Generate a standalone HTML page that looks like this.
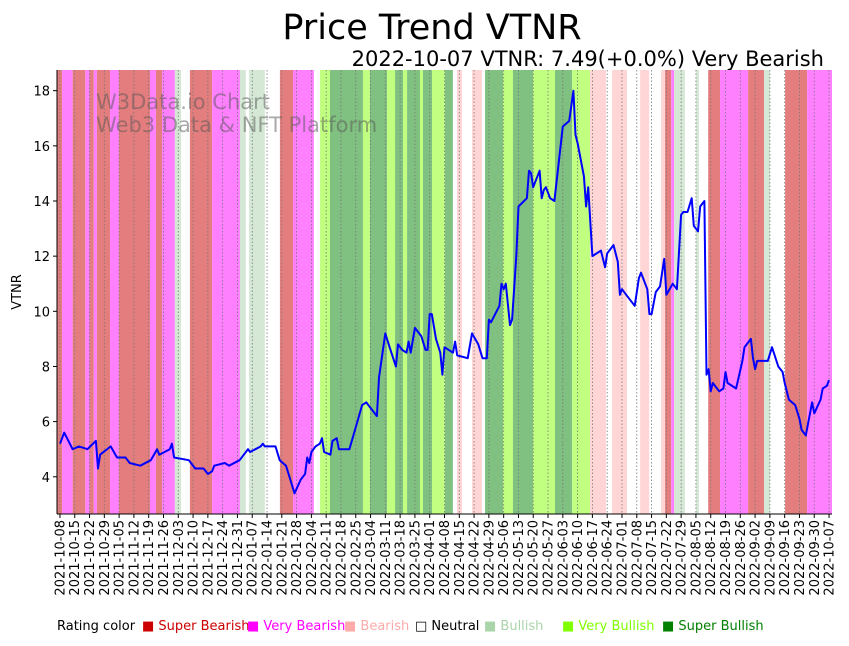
<!DOCTYPE html>
<html><head><meta charset="utf-8"><style>
body{margin:0;background:#fff;font-family:"Liberation Sans",sans-serif}
svg text{font-family:"DejaVu Sans","Liberation Sans",sans-serif}
</style></head><body>
<svg id="chart" width="849" height="641" xmlns="http://www.w3.org/2000/svg">
<text x="432" y="39" font-size="35" text-anchor="middle">Price Trend VTNR</text>
<text x="824" y="66" font-size="21" text-anchor="end">2022-10-07 VTNR: 7.49(+0.0%) Very Bearish</text>
<g id="bands"></g><g id="grid"></g>
<text x="96" y="109" font-size="21" fill="#555" fill-opacity="0.5">W3Data.io Chart</text>
<text x="96" y="132" font-size="21" fill="#555" fill-opacity="0.5">Web3 Data &amp; NFT Platform</text>
<g id="series"></g><g id="axes"></g>
<text transform="translate(21,292) rotate(-90)" font-size="13" text-anchor="middle">VTNR</text>
<g id="legend" font-size="13">
<text x="57" y="630">Rating color</text>
<text x="142" y="630" fill="#cc0000">■ Super Bearish</text>
<text x="247" y="630" fill="#ff00ff">■ Very Bearish</text>
<text x="344" y="630" fill="#ffaaaa">■ Bearish</text>
<text x="415" y="630" fill="#000">□ Neutral</text>
<text x="484" y="630" fill="#aad4aa">■ Bullish</text>
<text x="562" y="630" fill="#80ff00">■ Very Bullish</text>
<text x="662" y="630" fill="#008000">■ Super Bullish</text>
</g>
</svg>
<script>
// rating bands: start day index and rating code (0 super bearish .. 6 super bullish)
const bandStarts=[-2,1,6,12,14,16,17.5,23.7,27.9,42.6,45.4,48.3,54.4,57.3,61.5,72,85.2,88,89.5,97,104.1,110.3,120.2,123.1,127.8,143.4,146.7,154.8,158.6,162.4,164.3,170.4,171.8,176.1,182.2,186,187.9,190.3,195,199.8,201.2,209.7,214.4,223.9,234.3,242.4,250.9,258.5,261.3,268.4,274.6,278.9,284.5,286.4,289.3,290.7,295.8,301,302.5,306.8,312.4,325.7,333.2,336.1,343.2,353.6];
const bandRatings=[0,1,0,1,0,1,0,1,0,1,0,1,4,3,0,1,4,3,4,3,0,1,3,5,6,5,6,5,6,5,6,5,6,5,6,3,2,3,2,3,6,5,6,5,6,5,2,3,2,3,2,3,2,0,1,4,3,4,3,0,1,0,4,3,0,1];
const priceDays=[0,2,6,9,13,17,18,19,24,27,31,33,38,43,46,47,52,53,54,61,64,68,70,72,73,78,80,85,89,90,95,96,97,102,104,107,109,111,114,116,117,118,119,121,123,124,125,128,129,131,132,137,140,143,145,146,150,151,154,156,159,160,162,164,165,166,168,171,173,174,175,176,178,180,181,182,186,187,188,193,195,198,200,202,203,204,208,209,210,211,213,214,216,217,221,222,223,224,227,228,229,230,232,234,238,241,243,244,245,248,249,250,252,256,258,259,262,264,265,266,268,272,274,275,278,279,280,282,284,286,287,290,292,294,295,297,299,300,302,303,305,306,307,308,309,312,314,315,316,320,323,324,326,327,328,329,330,335,337,340,342,343,345,348,350,351,353,356,357,360,361,363,364];
const priceValues=[5.2,5.6,5.0,5.1,5.0,5.3,4.3,4.8,5.1,4.7,4.7,4.5,4.4,4.6,5.0,4.8,5.0,5.2,4.7,4.6,4.3,4.3,4.1,4.2,4.4,4.5,4.4,4.6,5.0,4.9,5.1,5.2,5.1,5.1,4.6,4.4,3.9,3.4,3.9,4.1,4.7,4.5,4.9,5.1,5.2,5.4,4.9,4.8,5.3,5.4,5.0,5.0,5.8,6.6,6.7,6.6,6.2,7.6,9.2,8.7,8.0,8.8,8.6,8.5,8.9,8.5,9.4,9.1,8.6,8.6,9.9,9.9,9.0,8.5,7.7,8.7,8.5,8.9,8.4,8.3,9.2,8.8,8.3,8.3,9.7,9.6,10.2,11.0,10.8,11.0,9.5,9.7,12.0,13.8,14.1,15.1,15.0,14.5,15.1,14.1,14.4,14.5,14.1,14.0,16.7,16.9,18.0,16.4,16.1,14.9,13.8,14.5,12.0,12.2,11.6,12.1,12.4,11.8,10.6,10.8,10.6,10.2,11.2,11.4,10.8,9.9,9.9,10.7,10.9,11.9,10.6,11.0,10.8,13.5,13.6,13.6,14.1,13.1,12.9,13.8,14.0,7.7,7.9,7.1,7.4,7.1,7.2,7.8,7.4,7.2,8.2,8.7,8.9,9.0,8.3,7.9,8.2,8.2,8.7,8.0,7.8,7.4,6.8,6.6,6.1,5.7,5.5,6.7,6.3,6.8,7.2,7.3,7.5];
const yTicks=[4,6,8,10,12,14,16,18];
const startDate='2021-10-08';
const numWeeks=53;

const NS='http://www.w3.org/2000/svg';
const L=57,R=832,T=70,B=514;
const dMin=-1.4,dMax=365.4,vMin=2.65,vMax=18.75;
const xs=d=>L+(d-dMin)/(dMax-dMin)*(R-L);
const ys=v=>B-(v-vMin)/(vMax-vMin)*(B-T);
const colors=['#e47d7d','#ff80ff','#ffd5d5','#ffffff','#d5e8d5','#c0ff80','#80c080'];
const names=['super-bearish','very-bearish','bearish','neutral','bullish','very-bullish','super-bullish'];
function mk(tag,attrs,parent){const e=document.createElementNS(NS,tag);for(const k in attrs)e.setAttribute(k,attrs[k]);parent.appendChild(e);return e;}
const gB=document.getElementById('bands');
for(let i=0;i<bandStarts.length;i++){
  const s=Math.max(xs(bandStarts[i]),L);
  const e=i+1<bandStarts.length?xs(bandStarts[i+1]):R;
  const r=mk('rect',{x:s,y:T,width:Math.max(0,Math.min(e,R)-s),height:B-T,fill:colors[bandRatings[i]]},gB);
  
  
}
const gG=document.getElementById('grid'),gA=document.getElementById('axes');
const sd=new Date(startDate+'T00:00:00Z');
for(let w=0;w<numWeeks;w++){
  const d=w*7,x=xs(d);
  const ln=mk('line',{x1:x,x2:x,y1:T,y2:B,stroke:'#777','stroke-width':0.8,'stroke-dasharray':'1.5,2'},gG);
  
  
  mk('line',{x1:x,x2:x,y1:B,y2:B+4,stroke:'#000'},gA);
  const dt=new Date(sd.getTime()+d*86400000);
  const lab=dt.toISOString().slice(0,10);
  const t=mk('text',{transform:`translate(${x+4.5},${B+6}) rotate(-90)`,'font-size':13,'text-anchor':'end'},gA);
  t.textContent=lab;
  
  
}
yTicks.forEach(v=>{
  const y=ys(v);
  mk('line',{x1:L-4,x2:L,y1:y,y2:y,stroke:'#000'},gA);
  const t=mk('text',{x:L-7,y:y+5,'font-size':13,'text-anchor':'end'},gA);
  t.textContent=v;
  
  
});
const sp1=mk('line',{x1:L,x2:L,y1:T,y2:B,stroke:'#000','stroke-width':1},gA);


const sp2=mk('line',{x1:L,x2:R,y1:B,y2:B,stroke:'#000','stroke-width':1},gA);


const pts=priceDays.map((d,i)=>xs(d).toFixed(1)+','+ys(priceValues[i]).toFixed(1)).join(' ');
const pl=mk('polyline',{points:pts,fill:'none',stroke:'#0000ff','stroke-width':2,'stroke-linejoin':'round'},document.getElementById('series'));


</script>
</body></html>
